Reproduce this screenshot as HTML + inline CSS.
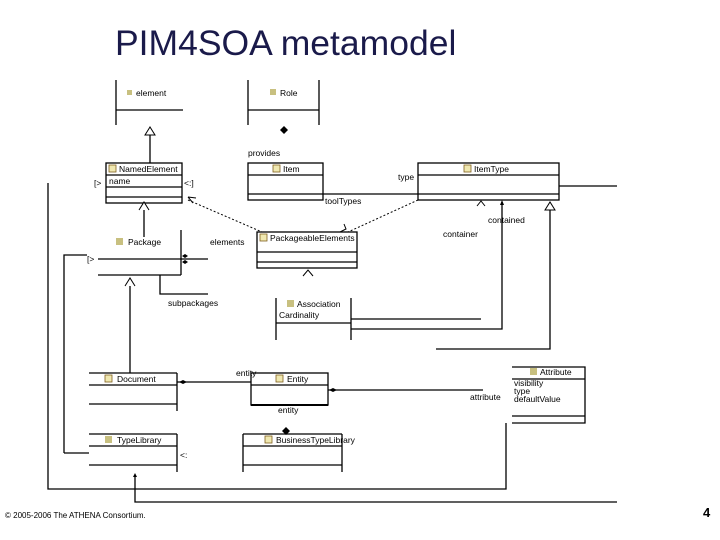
<!DOCTYPE html>
<html><head><style>
body{margin:0;background:#fff;}
svg{display:block;}
text{font-family:"Liberation Sans",sans-serif;font-size:8.5px;fill:#000;}
</style></head><body>
<svg width="720" height="540" viewBox="0 0 720 540" xmlns="http://www.w3.org/2000/svg">
<text x="115" y="55" style="font-size:35.5px;fill:#1a1a4a">PIM4SOA metamodel</text>
<g stroke="#000" stroke-width="1.3" fill="none">
<path d="M116 80V125M116 110H183"/>
<path d="M248 80V125M319 80V125M248 110H319"/>
<path d="M150 135V163"/>
<rect x="106" y="163" width="76" height="40" fill="#fff"/>
<path d="M106 175H182M106 187H182M106 197H182"/>
<path d="M144 210V237"/>
<rect x="248" y="163" width="75" height="37"/>
<path d="M248 175H323M248 194H323"/>
<path d="M323 194H418"/>
<rect x="418" y="163" width="141" height="37"/>
<path d="M418 175H559M418 194H559"/>
<path d="M559 186H617"/>
<path d="M502 203V329H351M481 319H351"/>
<path d="M550 209V349H436"/>
<rect x="257" y="232" width="100" height="36"/>
<path d="M257 252H357M257 262H357"/>
<path d="M181 230V275M98 259H208M98 275H181"/>
<path d="M130 283V373"/>
<path d="M160 275V294H208"/>
<path d="M64 453V255H87"/>
<path d="M48 183V489H506V423"/>
<path d="M276 298V340M351 298V340M276 323H351"/>
<path d="M89 373H177M89 385H177M89 404H177M177 373V411"/>
<path d="M177 382H251"/>
<rect x="251" y="373" width="77" height="32"/>
<path d="M251 385H328"/>
<path d="M251 405H328" stroke-width="2"/>
<path d="M328 390H483"/>
<path d="M512 367H585V423H512M512 379H585M512 416H585"/>
<path d="M89 434H177M89 446H177M89 465H177M177 434V472"/>
<path d="M64 453H89"/>
<path d="M135 476V502H617"/>
<path d="M243 434H342M243 446H342M243 465H342M243 434V472M342 434V472"/>
</g>
<g stroke="#000" stroke-width="1" stroke-dasharray="2,2" fill="none">
<path d="M188 200L262 232"/>
<path d="M418 200L348 232"/>
</g>
<g stroke="#000" stroke-width="1" fill="#fff">
<path d="M145 135L150 127L155 135Z"/>
<path d="M139 210L144 202L149 210"/>
<path d="M125 286L130 278L135 286"/>
<path d="M545 210L550 202L555 210Z"/>
<path d="M303 276L308 270L313 276"/>
<path d="M477 206L481 201L485 206"/>
<path d="M188 197L193 203M188 197L196 198"/>
<path d="M340 232L346 229L344 224"/>
</g>
<g fill="#000">
<path d="M284 126L288 130L284 134L280 130Z"/>
<path d="M185 254L188 256L185 258L182 256Z"/>
<path d="M185 260L188 262L185 264L182 262Z"/>
<path d="M183 380L187 382L183 384L179 382Z"/>
<path d="M333 388L337 390L333 392L329 390Z"/>
<path d="M286 427L290 431L286 435L282 431Z"/>
<path d="M135 473L137 477L133 477Z"/>
<path d="M502 200L504 205L500 205Z"/>
</g>
<g>
<rect x="127" y="90" width="5" height="5" fill="#c8c080"/>
<text x="136" y="96">element</text>
<rect x="270" y="89" width="6" height="6" fill="#c8c080"/>
<text x="280" y="96">Role</text>
<text x="248" y="156">provides</text>
<rect x="109" y="165" width="7" height="7" fill="#f0e8b0" stroke="#806020" stroke-width="0.8"/>
<text x="119" y="172">NamedElement</text>
<text x="109" y="184">name</text>
<text x="94" y="186">[&gt;</text>
<text x="184" y="186">&lt;:]</text>
<rect x="273" y="165" width="7" height="7" fill="#f0e8b0" stroke="#806020" stroke-width="0.8"/>
<text x="283" y="172">Item</text>
<rect x="464" y="165" width="7" height="7" fill="#f0e8b0" stroke="#806020" stroke-width="0.8"/>
<text x="474" y="172">ItemType</text>
<text x="398" y="180">type</text>
<text x="325" y="204">toolTypes</text>
<text x="488" y="223">contained</text>
<text x="443" y="237">container</text>
<rect x="260" y="234" width="7" height="7" fill="#f0e8b0" stroke="#806020" stroke-width="0.8"/>
<text x="270" y="241">PackageableElements</text>
<text x="210" y="245">elements</text>
<rect x="116" y="238" width="7" height="7" fill="#c8c080"/>
<text x="128" y="245">Package</text>
<text x="87" y="262">[&gt;</text>
<text x="168" y="306">subpackages</text>
<rect x="287" y="300" width="7" height="7" fill="#c8c080"/>
<text x="297" y="307">Association</text>
<text x="279" y="318">Cardinality</text>
<rect x="105" y="375" width="7" height="7" fill="#f0e8b0" stroke="#806020" stroke-width="0.8"/>
<text x="117" y="382">Document</text>
<text x="236" y="376">entity</text>
<rect x="276" y="375" width="7" height="7" fill="#f0e8b0" stroke="#806020" stroke-width="0.8"/>
<text x="287" y="382">Entity</text>
<text x="278" y="413">entity</text>
<text x="470" y="400">attribute</text>
<rect x="530" y="368" width="7" height="7" fill="#c8c080"/>
<text x="540" y="375">Attribute</text>
<text x="514" y="386">visibility</text>
<text x="514" y="394">type</text>
<text x="514" y="402">defaultValue</text>
<rect x="105" y="436" width="7" height="7" fill="#c8c080"/>
<text x="117" y="443">TypeLibrary</text>
<text x="180" y="458">&lt;:</text>
<rect x="265" y="436" width="7" height="7" fill="#f0e8b0" stroke="#806020" stroke-width="0.8"/>
<text x="276" y="443">BusinessTypeLibrary</text>
<text x="5" y="518" style="font-size:8px">© 2005-2006 The ATHENA Consortium.</text>
<text x="703" y="517" style="font-size:13px;font-weight:bold">4</text>
</g>
</svg>
</body></html>
